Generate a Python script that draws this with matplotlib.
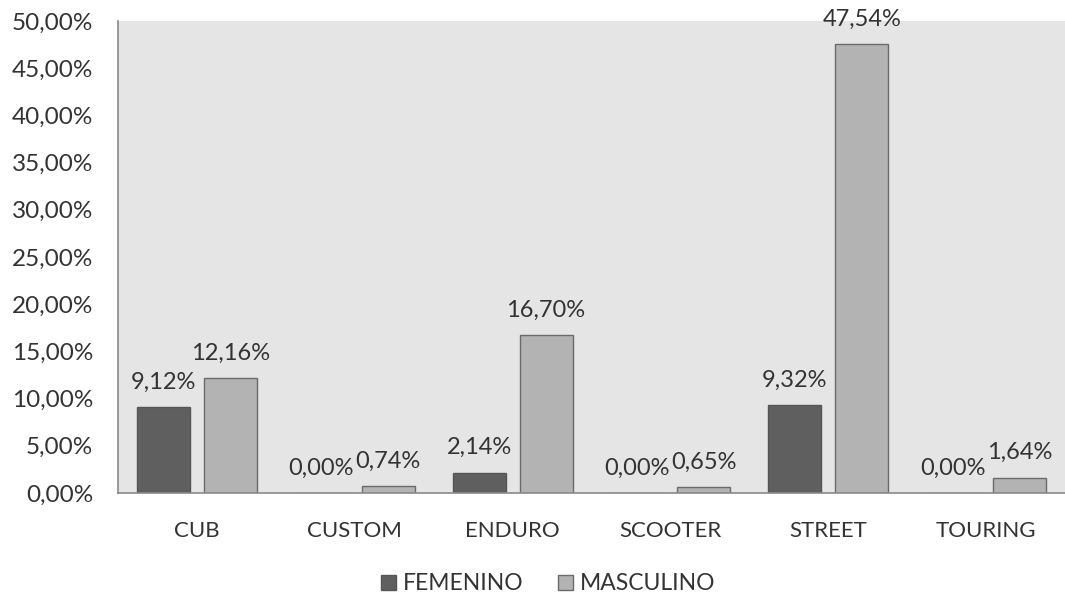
import numpy as np
import matplotlib.pyplot as plt
from matplotlib.ticker import FuncFormatter

plt.rcParams['font.family'] = ['Lato', 'DejaVu Sans']

categories = ['CUB', 'CUSTOM', 'ENDURO', 'SCOOTER', 'STREET', 'TOURING']
femenino = [9.12, 0.00, 2.14, 0.00, 9.32, 0.00]
masculino = [12.16, 0.74, 16.70, 0.65, 47.54, 1.64]
series_names = ['FEMENINO', 'MASCULINO']

fig = plt.figure(figsize=(10.65, 5.97), dpi=100)
ax = fig.add_axes([0.1108, 0.1742, 0.8892, 0.7906])
ax.set_facecolor('#e5e5e5')

x = np.arange(len(categories))
w = 0.336
off = 0.212
b1 = ax.bar(x - off, femenino, w, color='#5f5f5f', edgecolor='#555555', linewidth=1, label=series_names[0])
b2 = ax.bar(x + off, masculino, w, color='#b3b3b3', edgecolor='#6a6a6a', linewidth=1, label=series_names[1])

def pct(v):
    return f'{v:.2f}'.replace('.', ',') + '%'

for bars, vals in ((b1, femenino), (b2, masculino)):
    for rect, v in zip(bars, vals):
        ax.annotate(pct(v), (rect.get_x() + rect.get_width() / 2, v),
                    xytext=(0, 25), textcoords='offset pixels',
                    ha='center', va='center', fontsize=17, color='#333333')

ax.set_xlim(-0.5, len(categories) - 0.5)
ax.set_ylim(0, 50)
ax.set_yticks(np.arange(0, 51, 5))
ax.yaxis.set_major_formatter(FuncFormatter(lambda v, _: pct(v)))
ax.set_xticks(x)
ax.set_xticklabels(categories)
ax.tick_params(axis='y', length=0, pad=18, labelsize=17.5, labelcolor='#333333')
ax.tick_params(axis='x', length=0, pad=20, labelsize=16, labelcolor='#333333')

for s in ('top', 'right'):
    ax.spines[s].set_visible(False)
for s in ('left', 'bottom'):
    ax.spines[s].set_color('#8a8a8a')
    ax.spines[s].set_linewidth(1.2)

fig.legend(handles=[b1, b2], loc='center', bbox_to_anchor=(0.515, 0.022),
           ncol=2, frameon=False, fontsize=16.5, handlelength=0.65, handleheight=0.65,
           handletextpad=0.3, columnspacing=1.5, labelcolor='#333333')

fig.savefig('out.png', dpi=100)
